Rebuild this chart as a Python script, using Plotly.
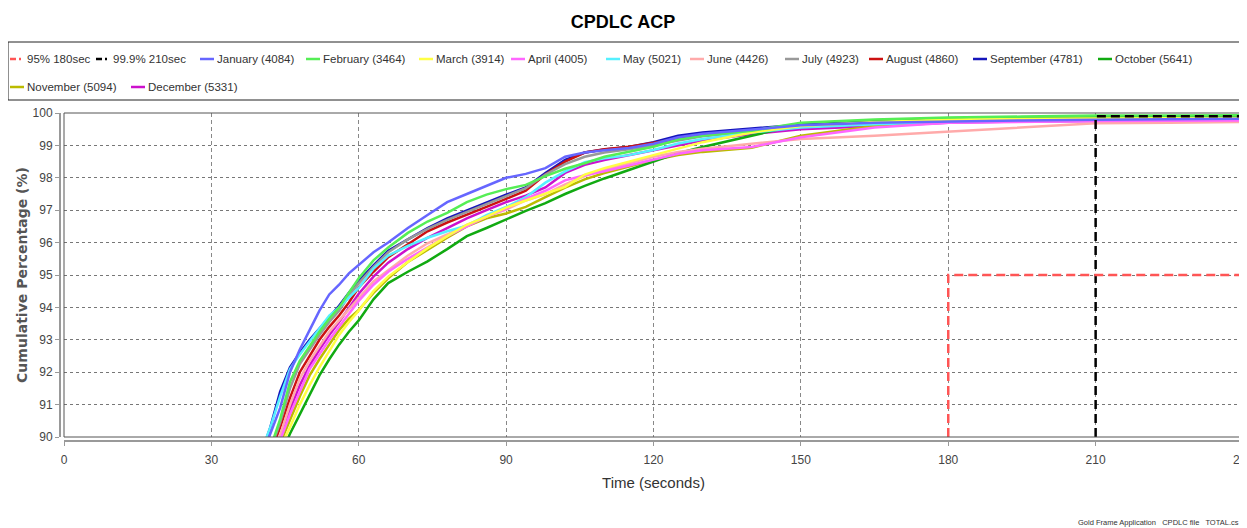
import plotly.graph_objects as go

# cumulative percentage of responses vs. time (seconds)
T = [40, 42, 44, 46, 48, 50, 52, 54, 56, 58, 60, 63, 66, 70, 74, 78, 82, 86, 90, 94,
     98, 102, 106, 110, 115, 120, 125, 130, 140, 150, 165, 180, 195, 210, 225, 240]

jan = [89.3, 90.1, 90.9, 92.0, 92.7, 93.3, 93.9, 94.4, 94.7, 95.05, 95.3, 95.7, 96.0, 96.45,
       96.85, 97.25, 97.5, 97.75, 98.0, 98.12, 98.3, 98.65, 98.78, 98.85, 98.92, 99.05, 99.25,
       99.36, 99.5, 99.62, 99.7, 99.74, 99.77, 99.79, 99.8, 99.82]
feb = [89.0, 89.65, 90.55, 91.7, 92.35, 92.8, 93.25, 93.65, 94.0, 94.45, 94.9, 95.45, 95.85,
       96.3, 96.65, 96.92, 97.25, 97.48, 97.65, 97.78, 98.05, 98.28, 98.45, 98.65, 98.8, 98.96,
       99.18, 99.3, 99.45, 99.7, 99.8, 99.86, 99.89, 99.92, 99.92, 99.93]
mar = [88.1, 88.9, 89.65, 90.3, 91.0, 91.6, 92.15, 92.65, 93.15, 93.55, 93.9, 94.5, 94.95,
       95.4, 95.83, 96.2, 96.55, 96.8, 97.08, 97.3, 97.5, 97.72, 98.1, 98.3, 98.5, 98.7, 98.9,
       99.1, 99.4, 99.6, 99.72, 99.8, 99.82, 99.83, 99.84, 99.85]
apr = [88.4, 89.1, 89.9, 90.7, 91.4, 92.1, 92.55, 93.0, 93.4, 93.8, 94.2, 94.7, 95.1, 95.5,
       95.85, 96.2, 96.5, 96.8, 97.05, 97.35, 97.6, 97.92, 98.08, 98.2, 98.38, 98.55, 98.74,
       98.85, 98.95, 99.25, 99.55, 99.7, 99.73, 99.75, 99.76, 99.77]
may = [89.5, 90.3, 91.25, 92.1, 92.55, 92.95, 93.35, 93.75, 94.0, 94.3, 94.6, 95.2, 95.6,
       95.9, 96.15, 96.35, 96.52, 96.85, 97.1, 97.4, 97.85, 98.2, 98.48, 98.6, 98.7, 98.86,
       99.06, 99.2, 99.4, 99.55, 99.65, 99.72, 99.75, 99.77, 99.78, 99.8]
jun = [88.6, 89.3, 90.05, 91.0, 91.8, 92.35, 92.8, 93.25, 93.6, 93.95, 94.3, 94.8, 95.15,
       95.6, 95.98, 96.25, 96.55, 96.8, 97.02, 97.3, 97.5, 97.8, 98.05, 98.25, 98.45, 98.65,
       98.8, 98.9, 99.05, 99.2, 99.3, 99.42, 99.55, 99.68, 99.7, 99.72]
jul = [88.9, 89.6, 90.45, 91.5, 92.25, 92.7, 93.15, 93.55, 93.9, 94.35, 94.75, 95.25, 95.7,
       96.1, 96.42, 96.7, 96.95, 97.2, 97.45, 97.68, 98.1, 98.42, 98.65, 98.78, 98.88, 99.0,
       99.15, 99.28, 99.42, 99.58, 99.68, 99.74, 99.77, 99.79, 99.8, 99.81]
aug = [88.8, 89.5, 90.3, 91.2, 92.0, 92.5, 93.0, 93.4, 93.75, 94.15, 94.62, 95.1, 95.55,
       95.95, 96.35, 96.62, 96.85, 97.1, 97.35, 97.6, 98.1, 98.5, 98.78, 98.88, 98.96, 99.08,
       99.22, 99.32, 99.45, 99.6, 99.68, 99.73, 99.76, 99.78, 99.79, 99.8]
sep = [89.4, 90.3, 91.4, 92.15, 92.6, 93.0, 93.35, 93.7, 94.05, 94.45, 94.82, 95.3, 95.75,
       96.1, 96.45, 96.75, 97.0, 97.25, 97.48, 97.7, 98.15, 98.55, 98.78, 98.87, 98.95, 99.1,
       99.3, 99.4, 99.52, 99.64, 99.72, 99.76, 99.78, 99.8, 99.81, 99.83]
oct_ = [88.0, 88.7, 89.4, 90.1, 90.7, 91.3, 91.9, 92.4, 92.85, 93.25, 93.6, 94.25, 94.75,
        95.1, 95.42, 95.8, 96.2, 96.45, 96.72, 96.98, 97.22, 97.5, 97.75, 97.98, 98.24, 98.5,
        98.76, 98.95, 99.3, 99.65, 99.78, 99.84, 99.86, 99.87, 99.87, 99.88]
nov = [88.3, 89.0, 89.8, 90.55, 91.25, 91.9, 92.4, 92.85, 93.3, 93.65, 93.92, 94.45, 94.9,
       95.4, 95.78, 96.15, 96.5, 96.75, 96.9, 97.1, 97.4, 97.7, 97.95, 98.15, 98.35, 98.55,
       98.7, 98.8, 98.93, 99.3, 99.6, 99.75, 99.78, 99.8, 99.81, 99.82]
dec = [88.5, 89.2, 90.0, 90.85, 91.6, 92.2, 92.7, 93.15, 93.55, 94.0, 94.42, 94.95, 95.38,
       95.8, 96.15, 96.45, 96.75, 97.0, 97.25, 97.45, 97.7, 98.15, 98.4, 98.55, 98.7, 98.84,
       99.0, 99.15, 99.35, 99.5, 99.6, 99.7, 99.74, 99.76, 99.77, 99.78]

months = ["January", "February", "March", "April", "May", "June", "July", "August",
          "September", "October", "November", "December"]
counts = [4084, 3464, 3914, 4005, 5021, 4426, 4923, 4860, 4781, 5641, 5094, 5331]
series = [jan, feb, mar, apr, may, jun, jul, aug, sep, oct_, nov, dec]
colors = ["#6666FF", "#55EE55", "#FFFF44", "#FF66FF", "#55F0FF", "#FFAAAA", "#999999",
          "#CC1111", "#1515BB", "#11AA11", "#BBBB00", "#CC11CC"]

# target lines (time, percentage)
t95_x, t95_y = [180, 180, 240], [90, 95, 95]
t999_x, t999_y = [210, 210, 240], [90, 99.9, 99.9]

OFF = 8   # page body margin: the figure lands 8px right/down in the window
W, H = 1247 - OFF, 528 - OFF
ML, MR, MT, MB = 52, 4, 105, 87


# screen pixel -> paper fraction
def px_x(sx):
    return (sx - OFF - ML) / (W - ML - MR)


def px_y(sy):
    return (H - MB - (sy - OFF)) / (H - MT - MB)


fig = go.Figure()

# JFreeChart draws the first series on top -> add in reverse
for name, ys, col in reversed(list(zip(months, series, colors))):
    fig.add_trace(go.Scatter(x=T, y=ys, mode="lines", name=name,
                             line=dict(color=col, width=2.5), hoverinfo="skip"))

fig.add_trace(go.Scatter(x=t999_x, y=t999_y, mode="lines", name="99.9% 210sec",
                         line=dict(color="black", width=2.5, dash="9px,5px")))
fig.add_trace(go.Scatter(x=t95_x, y=t95_y, mode="lines", name="95% 180sec",
                         line=dict(color="#FF5555", width=2.5, dash="9px,5px")))

# plot frame
fig.add_shape(type="rect", xref="x domain", yref="y domain", x0=0, x1=1, y0=0, y1=1,
              line=dict(color="#555", width=1), layer="above")

# hand-built legend box (two rows, like the original)
fig.add_shape(type="rect", xref="paper", yref="paper", x0=px_x(8), x1=px_x(1260),
              y0=px_y(100), y1=px_y(42), line=dict(color="#222", width=1))

legend_items = [("95% 180sec", "#FF5555", True), ("99.9% 210sec", "black", True)] + [
    (f"{m} ({c})", col, False) for m, c, col in zip(months, counts, colors)]
sym_pos = [10, 96, 200, 306, 419, 511, 606, 690, 785, 869, 973, 1098, 10, 131]
rows = [59] * 12 + [87] * 2

for (label, col, dashed), sx, ry in zip(legend_items, sym_pos, rows):
    if dashed:
        fig.add_shape(type="line", xref="paper", yref="paper", x0=px_x(sx), x1=px_x(sx + 6),
                      y0=px_y(ry), y1=px_y(ry), line=dict(color=col, width=2.5))
        fig.add_shape(type="line", xref="paper", yref="paper", x0=px_x(sx + 9), x1=px_x(sx + 11),
                      y0=px_y(ry), y1=px_y(ry), line=dict(color=col, width=2.5))
    else:
        fig.add_shape(type="line", xref="paper", yref="paper", x0=px_x(sx), x1=px_x(sx + 14),
                      y0=px_y(ry), y1=px_y(ry), line=dict(color=col, width=2.5))
    fig.add_annotation(text=label, xref="paper", yref="paper", x=px_x(sx + 15), y=px_y(ry),
                       xanchor="left", yanchor="middle", showarrow=False,
                       font=dict(family="Liberation Sans", size=11.5, color="#333"))

fig.add_annotation(text="Gold Frame Application   CPDLC file   TOTAL.cs", xref="paper",
                   yref="paper", x=px_x(1241), y=px_y(522), xanchor="right", yanchor="middle",
                   showarrow=False, font=dict(family="Liberation Sans", size=7.5, color="#333"))

fig.update_layout(
    width=W, height=H,
    margin=dict(l=ML, r=MR, t=MT, b=MB, autoexpand=False),
    title=dict(text="<b>CPDLC ACP</b>", x=(623 - OFF) / W, xref="container",
               y=1 - (22 - OFF) / H, yref="container", xanchor="center", yanchor="middle",
               font=dict(family="Liberation Sans", size=18, color="black")),
    showlegend=False,
    plot_bgcolor="white",
    paper_bgcolor="white",
    xaxis=dict(range=[0, 240], dtick=30, domain=[4 / (W - ML - MR), 1],
               anchor="free", position=0, ticklabeloverflow="allow", automargin=False,
               showgrid=True, gridcolor="#888", griddash="4px,3px", gridwidth=1,
               showline=True, linecolor="#999", linewidth=2, zeroline=False,
               ticks="outside", ticklen=4, tickcolor="#999", ticklabelstandoff=4,
               tickfont=dict(family="Liberation Sans", size=12, color="#444"),
               title=dict(text="Time (seconds)", standoff=10,
                          font=dict(family="Liberation Sans", size=15, color="#333"))),
    yaxis=dict(range=[90, 100], dtick=1, domain=[4 / (H - MT - MB), 1],
               anchor="free", position=0, automargin=False,
               showgrid=True, gridcolor="#777", griddash="dot", gridwidth=1,
               showline=True, linecolor="#999", linewidth=2, zeroline=False,
               ticks="outside", ticklen=4, tickcolor="#999",
               tickfont=dict(family="Liberation Sans", size=12, color="#444"),
               title=dict(text="<b>Cumulative Percentage (%)</b>", standoff=1,
                          font=dict(family="DejaVu Sans", size=14, color="#555"))),
)

fig.write_html("out.html")
